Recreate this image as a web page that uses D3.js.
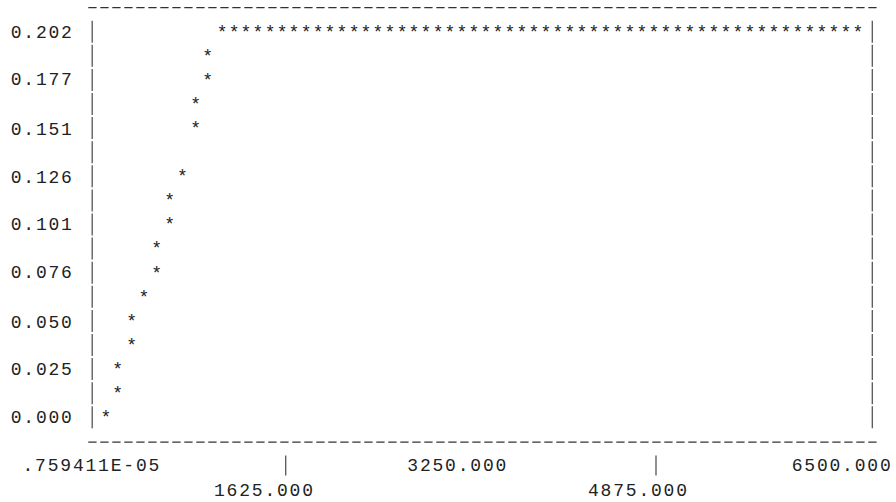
<!DOCTYPE html>
<html>
<head>
<meta charset="utf-8">
<script src="https://cdn.jsdelivr.net/npm/d3@7"></script>
<style>
  html, body { margin: 0; padding: 0; background: #fff; }
  svg { display: block; }
  text { font-family: "Liberation Mono", "Courier New", monospace; font-size: 18px; fill: #222; }
</style>
</head>
<body>
<svg id="chart" width="896" height="502"></svg>
<script>
// Rising branch: one point per printed row
const riseX = [0, 101, 101, 222, 222, 328, 438, 438, 551, 551, 660, 774, 774, 879, 879];
const riseY = [0, 0.0126, 0.0253, 0.0379, 0.0505, 0.0631, 0.0758, 0.0884, 0.1010, 0.1136, 0.1263, 0.1515, 0.1641, 0.1768, 0.1894];

// Plateau reached at the top of the range
const plateauX = [1003, 1107, 1210, 1314, 1418, 1522, 1625, 1729, 1833, 1936,
                  2040, 2144, 2247, 2351, 2455, 2559, 2662, 2766, 2870, 2973,
                  3077, 3181, 3284, 3388, 3492, 3596, 3699, 3803, 3907, 4010,
                  4114, 4218, 4321, 4425, 4529, 4633, 4736, 4840, 4944, 5047,
                  5151, 5255, 5358, 5462, 5566, 5670, 5773, 5877, 5981, 6084,
                  6188, 6292, 6395, 6500];
const plateauY = 0.202;

// Axis annotations
const yTickValues = [0.202, 0.177, 0.151, 0.126, 0.101, 0.076, 0.050, 0.025, 0.000];
const xTickLabels = [".759411E-05", "1625.000", "3250.000", "4875.000", "6500.000"];
const xTickMarks = [1625, 4875];

const yMax = 0.202;
const nRows = 16;                 // printed row intervals between 0 and yMax

const svg = d3.select("#chart");

// Scales: x in data units, y snapped to the printed rows
const x = d3.scaleLinear().domain([0, 6500]).range([106, 858]);
const y = d3.scaleLinear().domain([0, yMax]).range([417.3, 31.7]);
const rowStep = (y(0) - y(yMax)) / nRows;
const base = 5.9;                 // row centre to text baseline

// Frame columns and label layout
const leftBar = 92.2, rightBar = 872.3;
const yLabelX = 10.7;
const xLabelLeft = [22.5, 214, 407.3, 588, 791.7];
const xLabelRow = [0, 1, 0, 1, 0];
const xTickPos = [285.7, 656];
const labelRow0 = y(0) + 2 * rowStep;

const rows = d3.range(nRows + 1).map(i => i * yMax / nRows);

// Top and bottom rules
const rule = svg.append("g")
  .attr("stroke", "#333").attr("stroke-width", 1.2)
  .attr("stroke-dasharray", "8.3 3.7");
[y(yMax) - rowStep, y(0) + rowStep + 0.8].forEach(yy => {
  rule.append("line")
    .attr("x1", 88.3).attr("x2", 877)
    .attr("y1", yy).attr("y2", yy);
});

// Side bars, one segment per printed row
const bars = svg.append("g").attr("stroke", "#555").attr("stroke-width", 1.3);
rows.forEach(v => {
  [leftBar, rightBar].forEach(bx => {
    bars.append("line")
      .attr("x1", bx).attr("x2", bx)
      .attr("y1", y(v) - 11).attr("y2", y(v) + 11);
  });
});

// Y labels
svg.append("g").selectAll("text")
  .data(yTickValues)
  .join("text")
  .attr("x", yLabelX)
  .attr("y", d => y(d) + base)
  .attr("letter-spacing", "1.8px")
  .text(d => d3.format(".3f")(d));

// Data points
const points = riseX.map((d, i) => ({x: d, y: riseY[i]}))
  .concat(plateauX.map(d => ({x: d, y: plateauY})));

svg.append("g").selectAll("text")
  .data(points)
  .join("text")
  .attr("x", d => x(d.x))
  .attr("y", d => y(d.y) + base)
  .attr("text-anchor", "middle")
  .text("*");

// X axis labels and tick marks
svg.append("g").selectAll("text")
  .data(xTickLabels)
  .join("text")
  .attr("x", (d, i) => xLabelLeft[i])
  .attr("y", (d, i) => labelRow0 + xLabelRow[i] * rowStep + base)
  .attr("letter-spacing", "1.8px")
  .text(d => d);

svg.append("g").attr("stroke", "#555").attr("stroke-width", 1.3)
  .selectAll("line")
  .data(xTickMarks)
  .join("line")
  .attr("x1", (d, i) => xTickPos[i]).attr("x2", (d, i) => xTickPos[i])
  .attr("y1", labelRow0 - 10).attr("y2", labelRow0 + 10);
</script>
</body>
</html>
